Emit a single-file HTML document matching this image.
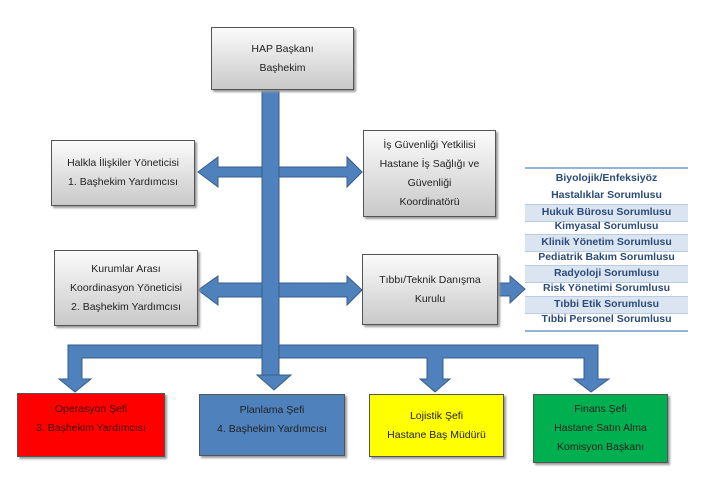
<!DOCTYPE html>
<html><head><meta charset="utf-8"><style>
body{margin:0;width:703px;height:483px;background:#fff;position:relative;overflow:hidden;font-family:"Liberation Sans",sans-serif}
.b{position:absolute;box-sizing:border-box;border:1px solid #555;background:linear-gradient(#fbfbfb,#c9c9c9);box-shadow:2px 2px 2px #999;display:flex;align-items:center;justify-content:center;text-align:center;font-size:10.5px;line-height:19px;color:#222}
svg{position:absolute;left:0;top:0}
.l{position:absolute;left:525px;width:163px;font-size:10.5px;font-weight:bold;color:#2c4a7a;text-align:center;line-height:15.5px}
.s{background:#dbe5f1;border-top:1px solid #b8cce4;border-bottom:1px solid #b8cce4;box-sizing:border-box}
</style></head><body>
<svg width="703" height="483">
<g fill="#4f81bd" stroke="#385d8a" stroke-width="1">
<path d="M68,345 H598 V379 H609 L591,392 L574,379 H584 V358 H443 V379 H450 L435,392 L420,379 H427 V358 H82 V379 H91 L75,392 L59,379 H68 Z"/>
<rect x="262" y="90" width="17" height="285"/>
<path d="M257,375 H291 L274,390 Z"/>
<path d="M262,167 H218 V157 L198,172 L218,187 V177 H262 Z"/>
<path d="M279,167 H347 V157 L362,172 L347,187 V177 H279 Z"/>
<path d="M262,283 H218 V276 L198,290 L218,305 V297 H262 Z"/>
<path d="M279,283 H347 V276 L362,290 L347,305 V297 H279 Z"/>
<path d="M498,283 H510 V276 L525,289 L510,303 V296 H498 Z"/>
</g>
<line x1="525" y1="168" x2="688" y2="168" stroke="#95b3d7" stroke-width="2"/>
<line x1="525" y1="331" x2="688" y2="331" stroke="#95b3d7" stroke-width="2"/>
</svg>
<div class="b" style="left:211px;top:27px;width:143px;height:63px">HAP Başkanı<br>Başhekim</div>
<div class="b" style="left:51px;top:140px;width:144px;height:66px">Halkla İlişkiler Yöneticisi<br>1. Başhekim Yardımcısı</div>
<div class="b" style="left:363px;top:130px;width:133px;height:87px">İş Güvenliği Yetkilisi<br>Hastane İş Sağlığı ve<br>Güvenliği<br>Koordinatörü</div>
<div class="b" style="left:54px;top:250px;width:144px;height:76px">Kurumlar Arası<br>Koordinasyon Yöneticisi<br>2. Başhekim Yardımcısı</div>
<div class="b" style="left:362px;top:254px;width:136px;height:71px">Tıbbı/Teknik Danışma<br>Kurulu</div>
<div class="l" style="top:170px;line-height:17px">Biyolojik/Enfeksiyöz<br>Hastalıklar Sorumlusu</div>
<div class="l s" style="top:204px">Hukuk Bürosu Sorumlusu</div>
<div class="l" style="top:219px">Kimyasal Sorumlusu</div>
<div class="l s" style="top:234px">Klinik Yönetim Sorumlusu</div>
<div class="l" style="top:250px">Pediatrik Bakım Sorumlusu</div>
<div class="l s" style="top:265px">Radyoloji Sorumlusu</div>
<div class="l" style="top:281px">Risk Yönetimi Sorumlusu</div>
<div class="l s" style="top:296px">Tıbbi Etik Sorumlusu</div>
<div class="l" style="top:312px">Tıbbi Personel Sorumlusu</div>
<div class="b" style="left:17px;top:393px;width:148px;height:64px;background:#ff0000;align-items:flex-start;padding-top:6px;color:#400">Operasyon Şefi<br>3. Başhekim Yardımcısı</div>
<div class="b" style="left:199px;top:394px;width:146px;height:62px;background:#4f81bd;align-items:flex-start;padding-top:6px">Planlama Şefi<br>4. Başhekim Yardımcısı</div>
<div class="b" style="left:369px;top:394px;width:135px;height:63px;background:#ffff00">Lojistik Şefi<br>Hastane Baş Müdürü</div>
<div class="b" style="left:533px;top:394px;width:135px;height:69px;background:#00b050">Finans Şefi<br>Hastane Satın Alma<br>Komisyon Başkanı</div>
</body></html>
